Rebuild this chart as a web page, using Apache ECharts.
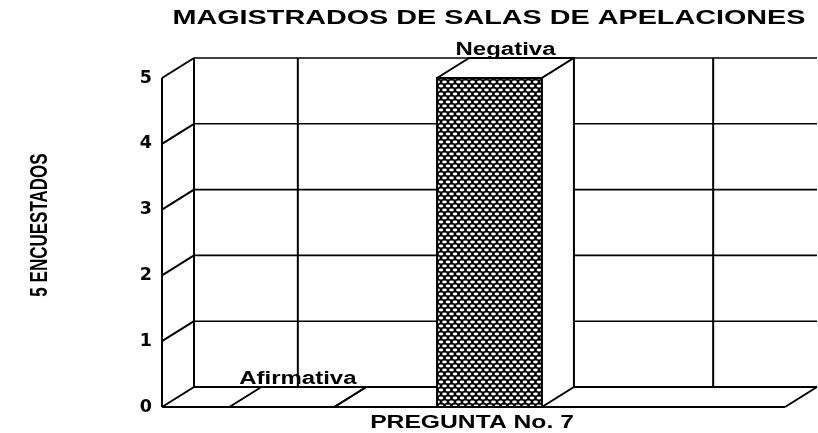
<!DOCTYPE html>
<html>
<head>
<meta charset="utf-8">
<script src="https://cdn.jsdelivr.net/npm/echarts@6/dist/echarts.min.js"></script>
<style>
  html, body { margin: 0; padding: 0; background: #ffffff; }
  #chart { width: 818px; height: 433px; }
</style>
</head>
<body>
<div id="chart"></div>
<script>
// Survey answers for question 7 (five respondents)
const categories = ['Afirmativa', 'Negativa', ''];
const respuestas = [0, 5, null];
const yTicks = [0, 1, 2, 3, 4, 5];
const titleText = 'MAGISTRADOS DE SALAS DE APELACIONES';
const xTitle = 'PREGUNTA No. 7';
const yTitle = '5 ENCUESTADOS';

// 3D depth offset of the back wall / bar tops
const DX = 32, DY = -20;
// horizontal stretch of all lettering
const SX = 1.37;
const FONT = '"Liberation Sans", Arial, sans-serif';

// cross-hatch fill for the bar front: white ellipses on black, staggered rows
function makeMesh() {
  const c = document.createElement('canvas');
  c.width = 7; c.height = 8;
  const g = c.getContext('2d');
  g.fillStyle = '#000';
  g.fillRect(0, 0, 7, 8);
  g.fillStyle = '#fff';
  const dot = (x, y) => { g.beginPath(); g.ellipse(x, y, 2.4, 1.4, 0, 0, Math.PI * 2); g.fill(); };
  dot(3.5, 2); dot(0, 6); dot(7, 6);
  return c;
}
const mesh = { image: makeMesh(), repeat: 'repeat' };

function seg(ax, ay, bx, by, w) {
  return { type: 'line', shape: { x1: ax, y1: ay, x2: bx, y2: by }, style: { stroke: '#000', lineWidth: w } };
}

// walls and floor of the box
function renderFrame(params, api) {
  const cs = params.coordSys;
  const x0 = cs.x, x1 = cs.x + cs.width;
  const yBase = api.coord([0, 0])[1];
  const yTop = api.coord([0, yTicks[yTicks.length - 1]])[1];
  const ch = [];
  ch.push(seg(x0, yBase, x1, yBase, 2));
  ch.push(seg(x0 + DX, yBase + DY, x1 + DX, yBase + DY, 2));
  ch.push(seg(x1, yBase, x1 + DX, yBase + DY, 2));
  ch.push(seg(x0, yBase, x0, yTop, 2));
  ch.push(seg(x0 + DX, yBase + DY, x0 + DX, yTop + DY, 2));
  yTicks.forEach(v => {
    const y = api.coord([0, v])[1];
    ch.push(seg(x0, y, x0 + DX, y + DY, 2));
    if (v > 0) ch.push(seg(x0 + DX, y + DY, x1 + DX, y + DY, 1.6));
  });
  categories.forEach((c, i) => {
    const x = api.coord([i, 0])[0] + DX;
    ch.push(seg(x, yBase + DY, x, yTop + DY, 2));
  });
  return { type: 'group', children: ch };
}

// 3D bar with its category label above the top face
function renderBar(params, api) {
  const i = api.value(0), v = api.value(1);
  const top = api.coord([i, v]);
  const base = api.coord([i, 0]);
  const w = api.size([1, 0])[0] * 0.505;
  const xl = top[0] + DX / 2 - w / 2, xr = xl + w;
  const yt = top[1], yb = base[1];
  const ch = [];
  if (yb - yt > 0) {
    ch.push({ type: 'rect', shape: { x: xl, y: yt, width: w, height: yb - yt },
      style: { fill: mesh, stroke: '#000', lineWidth: 2 } });
  }
  ch.push({ type: 'polygon', shape: { points: [[xl, yt], [xl + DX, yt + DY], [xr + DX, yt + DY], [xr, yt]] },
    style: { fill: '#fff', stroke: '#000', lineWidth: 2, lineJoin: 'round' } });
  ch.push({ type: 'polygon', shape: { points: [[xr, yt], [xr + DX, yt + DY], [xr + DX, yb + DY], [xr, yb]] },
    style: { fill: '#fff', stroke: '#000', lineWidth: 2, lineJoin: 'round' } });
  ch.push({ type: 'text', x: (xl + xr + DX) / 2, y: yt - 19, scaleX: SX,
    style: { text: categories[i], fontFamily: FONT, fontWeight: 'bold', fontSize: 17.5,
      fill: '#000', align: 'center', verticalAlign: 'bottom' } });
  return { type: 'group', children: ch };
}

const chart = echarts.init(document.getElementById('chart'), null, { renderer: 'canvas' });
chart.setOption({
  animation: false,
  backgroundColor: '#ffffff',
  grid: { left: 162, right: 33, top: 78, bottom: 26 },
  xAxis: { type: 'category', data: categories, show: false },
  yAxis: {
    type: 'value', min: 0, max: 5, interval: 1,
    axisLine: { show: false }, axisTick: { show: false }, splitLine: { show: false },
    axisLabel: { margin: 10, color: '#000', fontFamily: '"DejaVu Sans", sans-serif', fontWeight: 'bold',
      fontSize: 17.5, padding: [12, 0, 0, 0] }
  },
  graphic: [
    { type: 'text', x: 489, y: 18, scaleX: SX,
      style: { text: titleText, fontFamily: FONT, fontWeight: 'bold', fontSize: 21, fill: '#000',
        align: 'center', verticalAlign: 'middle' } },
    { type: 'text', x: 472, y: 423, scaleX: SX,
      style: { text: xTitle, fontFamily: FONT, fontWeight: 'bold', fontSize: 18, fill: '#000',
        align: 'center', verticalAlign: 'middle' } },
    { type: 'text', x: 41, y: 225, rotation: Math.PI / 2, scaleY: SX,
      style: { text: yTitle, fontFamily: FONT, fontWeight: 'bold', fontSize: 17, fill: '#000',
        align: 'center', verticalAlign: 'middle' } }
  ],
  series: [
    { type: 'custom', name: 'marco', renderItem: renderFrame, data: [[0, 0]], silent: true, z: 1 },
    { type: 'custom', name: 'Encuestados', renderItem: renderBar, z: 5,
      data: respuestas.map((v, i) => (v === null ? null : [i, v])).filter(d => d) }
  ]
});
</script>
</body>
</html>
